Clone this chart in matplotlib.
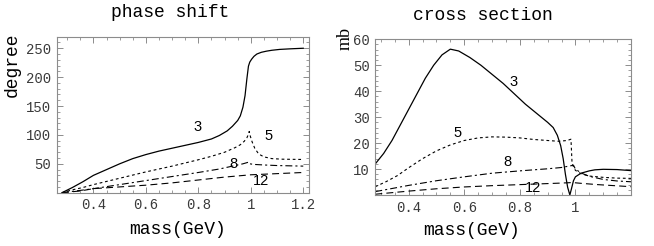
import matplotlib
matplotlib.use("Agg")
import matplotlib.pyplot as plt
from matplotlib.ticker import MultipleLocator, FixedLocator

plt.rcParams['lines.scale_dashes'] = False

# ---------------- data: phase shift (degree) ----------------
ph3_x = [0.28, 0.32, 0.36, 0.40, 0.45, 0.50, 0.55, 0.60, 0.65, 0.70, 0.75, 0.80, 0.85, 0.88,
         0.91, 0.93, 0.95, 0.96, 0.97, 0.978, 0.985, 0.991, 0.996, 1.003, 1.012, 1.023, 1.04,
         1.06, 1.08, 1.11, 1.15, 1.2]
ph3_y = [0, 9, 19, 30, 40, 50, 59, 66, 72, 77, 82, 87, 93, 99,
         107, 115, 125, 133, 148, 168, 197, 219, 226, 231, 236, 240, 243,
         245, 246.5, 248, 249, 250]

ph5_x = [0.28, 0.32, 0.36, 0.40, 0.50, 0.60, 0.70, 0.80, 0.85, 0.90, 0.94, 0.96, 0.975, 0.985,
         0.990, 0.994, 0.998, 1.005, 1.015, 1.03, 1.05, 1.08, 1.12, 1.2]
ph5_y = [0, 5, 9, 14, 25, 36, 46, 57, 63, 70, 78, 83, 89, 95,
         100, 106, 98, 88, 77, 67, 62, 59, 58, 57.5]

ph8_x = [0.28, 0.35, 0.40, 0.50, 0.60, 0.70, 0.80, 0.88, 0.94, 0.97, 0.985, 0.993,
         0.997, 1.01, 1.05, 1.1, 1.2]
ph8_y = [0, 4, 7, 14, 21, 28, 35, 41, 47, 50, 52, 53,
         50, 49, 48, 47, 46]

ph12_x = [0.28, 0.35, 0.40, 0.50, 0.60, 0.70, 0.80, 0.90, 1.00, 1.10, 1.2]
ph12_y = [0, 3, 7, 10, 13, 17, 22, 27, 31, 33, 35]

# ---------------- data: cross section (mb) ----------------
cs3_x = [0.28, 0.31, 0.34, 0.37, 0.40, 0.43, 0.46, 0.49, 0.52, 0.55, 0.58, 0.62, 0.66, 0.70,
         0.74, 0.78, 0.82, 0.86, 0.90, 0.92, 0.935, 0.947, 0.956, 0.964, 0.972, 0.98, 0.986,
         0.993, 1.0, 1.02, 1.05, 1.07, 1.1, 1.15, 1.2]
cs3_y = [12, 16, 21, 27, 33, 39, 45, 50, 54, 56.2, 55.5, 53, 50, 46.5,
         43, 39, 35, 31.5, 28, 26, 23, 19, 14, 8, 3, 0, 2.5,
         5.5, 7, 8.4, 9.3, 9.7, 9.9, 9.8, 9.4]

cs5_x = [0.28, 0.32, 0.36, 0.40, 0.45, 0.50, 0.55, 0.60, 0.65, 0.70, 0.75, 0.80, 0.85, 0.90,
         0.94, 0.97, 0.984, 0.988, 0.993, 1.0, 1.02, 1.05, 1.1, 1.15, 1.2]
cs5_y = [3.2, 5.2, 7.5, 10.5, 14, 17, 19.3, 21, 22, 22.4, 22.3, 22, 21.4, 21,
         20.7, 21, 21.5, 12, 10.9, 9.5, 8.2, 7.3, 6.8, 6.5, 6.4]

cs8_x = [0.28, 0.35, 0.40, 0.50, 0.60, 0.70, 0.80, 0.90, 0.95, 0.985, 0.993, 1.0, 1.02,
         1.05, 1.1, 1.15, 1.2]
cs8_y = [1.3, 2.7, 3.7, 5.5, 7.0, 8.4, 9.3, 10.1, 10.6, 11.3, 11.5, 10, 8.5,
         7.2, 6.0, 5.4, 5.1]

cs12_x = [0.28, 0.35, 0.40, 0.50, 0.60, 0.70, 0.80, 0.90, 0.95, 0.99, 1.02, 1.08, 1.14, 1.2]
cs12_y = [0.3, 1.0, 1.5, 2.4, 3.1, 3.6, 4.0, 4.4, 4.6, 4.8, 4.5, 4.0, 3.6, 3.2]

curve_labels = ["3", "5", "8", "12"]
ph_label_pos = [(0.796, 113), (1.067, 99), (0.933, 49), (1.038, 19.5)]
cs_label_pos = [(0.778, 43.7), (0.576, 23.8), (0.754, 12.9), (0.847, 2.6)]

ph_xticks = [0.4, 0.6, 0.8, 1.0, 1.2]
ph_xticklabels = ["0.4", "0.6", "0.8", "1", "1.2"]
ph_yticks = [50, 100, 150, 200, 250]
cs_xticks = [0.4, 0.6, 0.8, 1.0]
cs_xticklabels = ["0.4", "0.6", "0.8", "1"]
cs_yticks = [10, 20, 30, 40, 50, 60]

# ---------------- styling ----------------
W, H = 654, 246
fig = plt.figure(figsize=(W / 100, H / 100), dpi=100)
mono = "Liberation Mono"
frame_col = "#8c8c8c"
tick_col = "#3a3a3a"

styles = [
    dict(color="black", lw=0.9, linestyle="-"),
    dict(color="black", lw=0.8, linestyle=(0, (2.0, 2.0))),
    dict(color="black", lw=0.8, linestyle=(0, (5.0, 2.2, 1.5, 2.2))),
    dict(color="black", lw=0.8, linestyle=(0, (5.0, 3.0))),
]


def px_axes(x0, y0, x1, y1):
    return fig.add_axes([x0 / W, 1 - y1 / H, (x1 - x0) / W, (y1 - y0) / H])


def style_axes(ax, xmin_step, ymin_step):
    for s in ax.spines.values():
        s.set_color(frame_col)
        s.set_linewidth(0.8)
    ax.tick_params(which="both", direction="in", top=True, right=True,
                   color=frame_col, labelcolor=tick_col, labelsize=10)
    ax.tick_params(which="major", length=4, width=0.7, pad=4)
    ax.tick_params(which="minor", length=2, width=0.6)
    ax.xaxis.set_minor_locator(MultipleLocator(xmin_step))
    ax.yaxis.set_minor_locator(MultipleLocator(ymin_step))
    for lab in ax.get_xticklabels() + ax.get_yticklabels():
        lab.set_family(mono)


# left panel
ax1 = px_axes(56.7, 36.7, 309.3, 192.7)
for (xs, ys), st in zip([(ph3_x, ph3_y), (ph5_x, ph5_y), (ph8_x, ph8_y), (ph12_x, ph12_y)], styles):
    ax1.plot(xs, ys, **st)
ax1.set_xlim(0.26, 1.223)
ax1.set_ylim(0, 270)
ax1.set_xticks(ph_xticks)
ax1.set_xticklabels(ph_xticklabels)
ax1.set_yticks(ph_yticks)
style_axes(ax1, 0.05, 10)
for lab, (x, y) in zip(curve_labels, ph_label_pos):
    ax1.text(x, y, lab, ha="center", va="center", fontsize=10.5, family="Liberation Sans")

# right panel
ax2 = px_axes(375.3, 39.3, 631, 195)
for (xs, ys), st in zip([(cs3_x, cs3_y), (cs5_x, cs5_y), (cs8_x, cs8_y), (cs12_x, cs12_y)], styles):
    ax2.plot(xs, ys, **st)
ax2.set_xlim(0.28, 1.2)
ax2.set_ylim(0, 60)
ax2.set_xticks(cs_xticks)
ax2.set_xticklabels(cs_xticklabels)
ax2.set_yticks(cs_yticks)
style_axes(ax2, 0.05, 2)
for lab, (x, y) in zip(curve_labels, cs_label_pos):
    ax2.text(x, y, lab, ha="center", va="center", fontsize=10.5, family="Liberation Sans")

# titles and axis labels (figure pixel positions)
def ftext(x, y, s, **kw):
    fig.text(x / W, 1 - y / H, s, ha="center", va="center", **kw)

ftext(170, 12.5, "phase shift", family=mono, fontsize=13)
ftext(483, 15, "cross section", family=mono, fontsize=13)
ftext(178, 229.5, "mass(GeV)", family=mono, fontsize=13)
ftext(472, 230.5, "mass(GeV)", family=mono, fontsize=13)
ftext(12, 65, "degree", family=mono, fontsize=13, rotation=90)
ftext(345, 39, "mb", family="Liberation Serif", fontsize=13, rotation=90)

fig.savefig("out.png", dpi=100)
